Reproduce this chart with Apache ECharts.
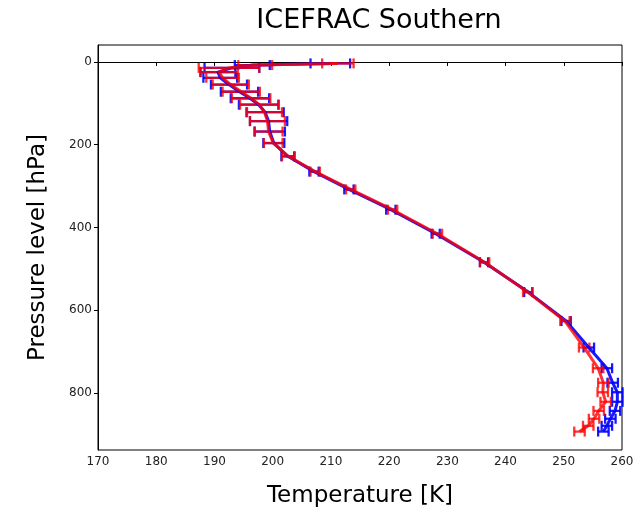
<!DOCTYPE html>
<html>
<head>
<meta charset="utf-8">
<script src="https://cdn.jsdelivr.net/npm/echarts@6/dist/echarts.min.js"></script>
<style>
  html, body { margin: 0; padding: 0; background: #fff; }
  #chart { width: 642px; height: 513px; }
</style>
</head>
<body>
<div id="chart"></div>
<script>
// pressure levels (hPa)
const levels = [3.6, 7.6, 14.4, 24.6, 38.3, 54.6, 72.0, 87.8, 103.3, 121.5, 143.0, 168.2, 196, 228, 265, 308, 357, 415, 484, 556, 626, 690, 740, 775, 798, 821, 843, 862, 879, 893];

const blueMean = [209.9, 196.5, 193.0, 190.6, 191.0, 192.5, 194.3, 196.1, 197.6, 198.7, 199.3, 199.5, 200.2, 202.6, 207.1, 213.1, 220.3, 228.0, 236.3, 243.9, 250.4, 254.3, 257.4, 258.4, 259.2, 259.2, 258.8, 258.0, 257.4, 256.8];
const blueErr = [3.4, 3.0, 4.7, 3.0, 2.9, 3.1, 3.2, 3.3, 3.4, 3.2, 3.2, 2.6, 1.8, 1.1, 0.8, 0.8, 0.8, 0.7, 0.7, 0.7, 0.8, 0.9, 0.9, 0.9, 0.9, 0.9, 0.9, 0.9, 0.9, 0.9];

const redMean = [211.2, 197.0, 192.5, 190.8, 191.4, 192.8, 194.6, 196.3, 197.7, 198.6, 199.1, 199.3, 200.1, 202.7, 207.3, 213.4, 220.6, 228.3, 236.4, 243.8, 250.2, 253.5, 255.9, 256.8, 256.7, 257.2, 256.0, 255.2, 254.2, 252.7];
const redErr = [2.7, 2.9, 5.2, 3.2, 2.8, 3.1, 3.2, 3.3, 3.3, 3.0, 3.0, 2.4, 1.6, 1.1, 0.8, 0.8, 0.8, 0.8, 0.8, 0.8, 0.8, 0.9, 0.9, 0.9, 0.9, 0.9, 0.9, 0.9, 0.9, 0.9];

const yTicks = [0, 200, 400, 600, 800];

const BLUE = "rgba(0,0,255,0.9)";
const RED = "rgba(255,0,0,0.8)";
const font = "DejaVu Sans";

const errSeries = (mean, err, color) => ({
  type: "custom",
  data: mean.map((t, i) => [t, levels[i], err[i]]),
  encode: { x: 0, y: 1 },
  renderItem(params, api) {
    const t = api.value(0), p = api.value(1), e = api.value(2);
    const a = api.coord([t - e, p]);
    const b = api.coord([t + e, p]);
    const h = 5;
    const style = { stroke: color, lineWidth: 2.3, fill: null };
    return {
      type: "group",
      children: [
        { type: "line", shape: { x1: a[0], y1: a[1], x2: b[0], y2: b[1] }, style },
        { type: "line", shape: { x1: a[0], y1: a[1] - h, x2: a[0], y2: a[1] + h }, style },
        { type: "line", shape: { x1: b[0], y1: b[1] - h, x2: b[0], y2: b[1] + h }, style },
      ],
    };
  },
});

const lineSeries = (mean, color) => ({
  type: "line",
  data: mean.map((t, i) => [t, levels[i]]),
  showSymbol: false,
  symbol: "none",
  lineStyle: { color, width: 3 },
});

const myChart = echarts.init(document.getElementById("chart"));
myChart.setOption({
  animation: false,
  title: {
    text: "ICEFRAC Southern",
    left: 374,
    top: 2,
    textAlign: "center",
    textStyle: { fontFamily: font, fontSize: 27, fontWeight: "normal", color: "#000" },
  },
  grid: {
    left: 98,
    right: 20,
    top: 45,
    bottom: 61,
    show: true,
    borderColor: "#000",
    borderWidth: 1,
  },
  xAxis: {
    type: "value",
    min: 170,
    max: 260,
    interval: 10,
    name: "Temperature [K]",
    nameLocation: "middle",
    nameGap: 35,
    nameTextStyle: { fontFamily: font, fontSize: 23, color: "#000" },
    axisLine: { lineStyle: { color: "#000" } },
    axisTick: { length: 4, lineStyle: { color: "#000" } },
    axisLabel: { fontFamily: font, fontSize: 12, color: "#222", margin: 6 },
    splitLine: { show: false },
  },
  yAxis: {
    type: "value",
    inverse: true,
    min: -40.9,
    max: 937.5,
    name: "Pressure level [hPa]",
    nameLocation: "middle",
    nameGap: 48,
    nameTextStyle: { fontFamily: font, fontSize: 23, color: "#000" },
    axisLine: { lineStyle: { color: "#000" } },
    axisTick: { length: 4, customValues: yTicks, lineStyle: { color: "#000" } },
    axisLabel: { fontFamily: font, fontSize: 12, color: "#222", margin: 6, customValues: yTicks },
    splitLine: { show: false },
  },
  series: [
    errSeries(blueMean, blueErr, BLUE),
    lineSeries(blueMean, BLUE),
    errSeries(redMean, redErr, RED),
    lineSeries(redMean, RED),
  ],
});
</script>
</body>
</html>
